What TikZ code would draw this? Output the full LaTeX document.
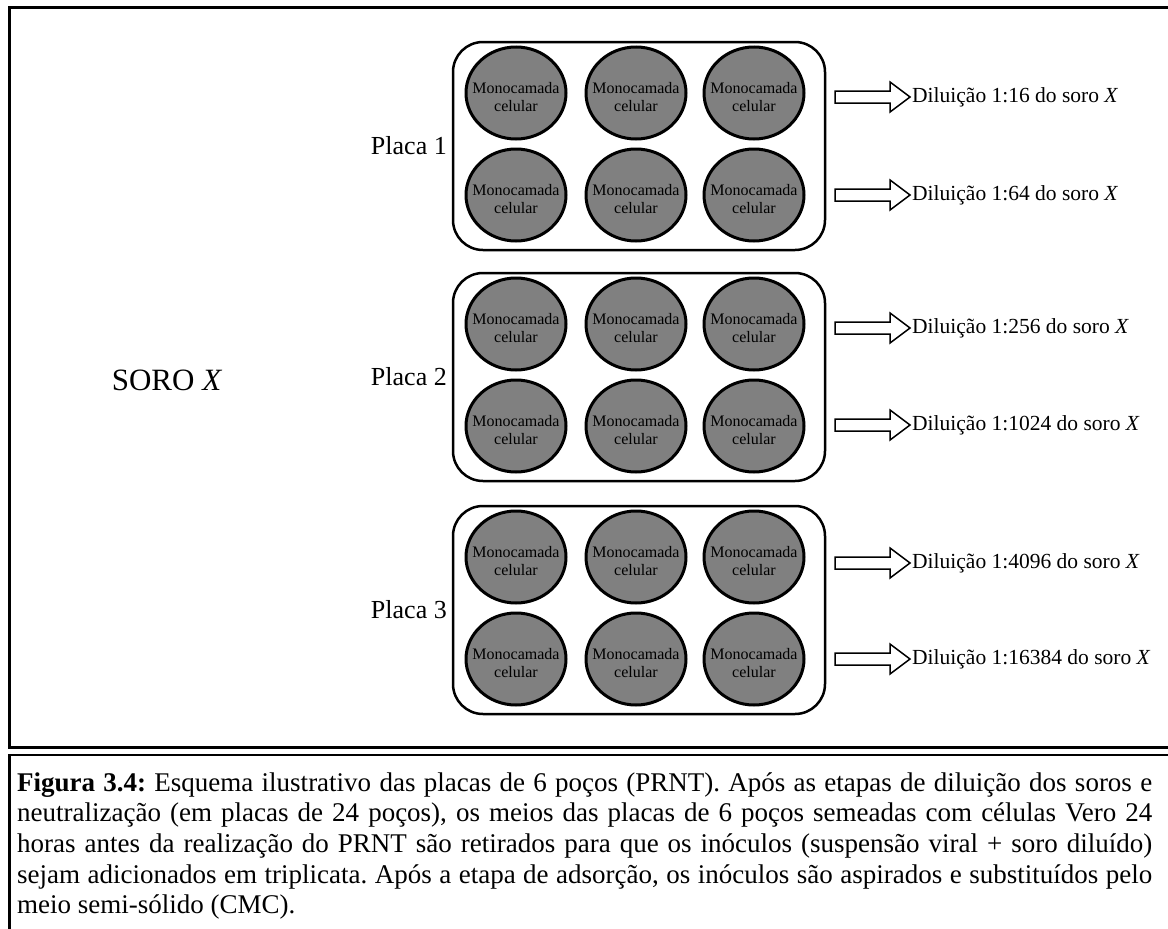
\documentclass[tikz,border=0pt]{standalone}
\usepackage{fontspec}
\setmainfont{Liberation Serif}
\usetikzlibrary{shapes.geometric}
\definecolor{wellgray}{RGB}{128,128,128}
\begin{document}
\begin{tikzpicture}[x=1pt,y=-1pt,
 frame/.style={draw, line width=3pt},
 plate/.style={draw, line width=2.5pt, rounded corners=30pt, minimum width=372pt, minimum height=208pt, inner sep=0pt},
 well/.style={draw, ellipse, fill=wellgray, line width=3pt, minimum width=100pt, minimum height=92pt, inner sep=0pt},
 welltext/.style={align=center, font=\fontsize{16}{18}\selectfont, inner sep=0pt},
 placa/.style={font=\fontsize{26}{30}\selectfont, anchor=east, inner sep=0pt},
 soro/.style={font=\fontsize{31}{36}\selectfont, inner sep=0pt},
 dil/.style={font=\fontsize{21.5}{25}\selectfont, anchor=west, inner sep=0pt},
 blockarrow/.style={draw, line width=1.5pt, fill=white, line join=miter},
 captext/.style={anchor=base west, inner sep=0pt, font=\fontsize{27}{30.7}\selectfont},
]
\useasboundingbox (0,0) rectangle (1168,929);
% frames
\draw[frame] (9.5,7.5) rectangle (1190,747);
\draw[frame, line width=2.5pt] (9.5,755) rectangle (1190,945);

\node[soro] (soro) at (167,380) {SORO \textit{X}};

% plates
\foreach \p/\top in {1/41, 2/272, 3/505} {
  \node[plate] (p\p) at (639,\top+105) {};
  \node[placa] (l\p) at (447,\top+105) {Placa \p};
  \foreach \r/\dy in {1/52, 2/154} {
    \foreach \c/\x in {1/516, 2/636, 3/754} {
      \node[well] (w\p-\r-\c) at (\x,\top+\dy) {};
      \node[welltext] (t\p-\r-\c) at ([yshift=-4pt]w\p-\r-\c.center) {Monocamada\\celular};
    }
  }
}

% dilution arrows
\foreach \n/\y/\d in {1/97/16, 2/195/64, 3/328/256, 4/425/1024, 5/563/4096, 6/659/16384} {
  \coordinate (a\n) at (835,\y);
  \draw[blockarrow] (a\n) ++(0,-6) -- ++(55,0) -- ++(0,-9) -- ++(20,15) -- ++(-20,15) -- ++(0,-9) -- ++(-55,0) -- cycle;
  \node[dil] (d\n) at (912,\y) {Diluição 1:\d\ do soro \textit{X}};
}

% caption
\node[captext] (cap) at (17,791) {\parbox[t]{1135pt}{\fontsize{27}{30.7}\selectfont\frenchspacing
\textbf{Figura 3.4:} Esquema ilustrativo das placas de 6 poços (PRNT). Após as etapas de diluição dos soros e\linebreak
neutralização (em placas de 24 poços), os meios das placas de 6 poços semeadas com células Vero 24\linebreak
horas antes da realização do PRNT são retirados para que os inóculos (suspensão viral + soro diluído)\linebreak
sejam adicionados em triplicata. Após a etapa de adsorção, os inóculos são aspirados e substituídos pelo\linebreak
meio semi-sólido (CMC).}};
\end{tikzpicture}
\end{document}
